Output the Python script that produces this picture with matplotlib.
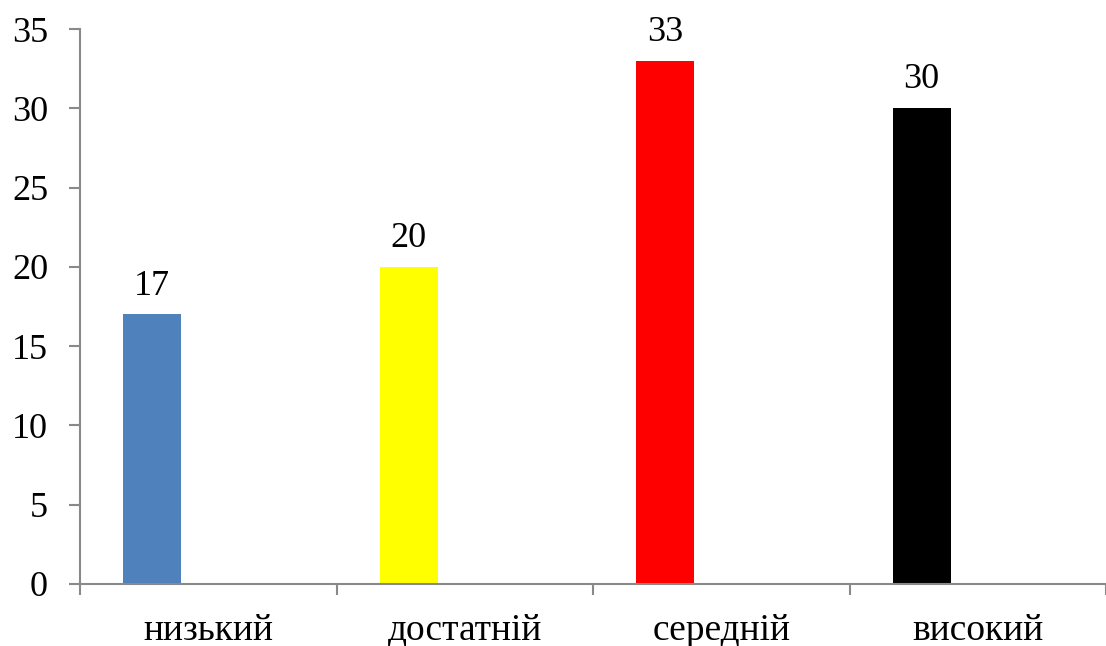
import matplotlib
matplotlib.use("Agg")
import matplotlib.pyplot as plt
import numpy as np

categories = ["низький", "достатній", "середній", "високий"]
values = [17, 20, 33, 30]
colors = ["#4f81bd", "#ffff00", "#ff0000", "#000000"]
yticks = [0, 5, 10, 15, 20, 25, 30, 35]

plt.rcParams['font.family'] = ['Liberation Serif', 'DejaVu Serif']

W, H = 1106, 646
fig = plt.figure(figsize=(W / 100, H / 100), dpi=100)
ax = fig.add_axes([80 / W, (H - 584) / H, 1026 / W, 555 / H])

x = np.arange(len(categories))
bar_offset = 0.281
bar_width = 0.226
bars = ax.bar(x + bar_offset, values, width=bar_width, color=colors)
for xi, v in zip(x, values):
    ax.text(xi + bar_offset, v + 0.75, str(v), ha='center', va='bottom', fontsize=26)

ax.set_xlim(0, len(categories))
ax.set_ylim(0, 35)
ax.set_yticks(yticks)
ax.set_yticklabels([str(t) for t in yticks], fontsize=26)

ax.set_xticks(x + 0.5)
ax.set_xticklabels(categories, fontsize=27)
ax.set_xticks(np.arange(len(categories) + 1), minor=True)

gray = "#898989"
for s in ['top', 'right']:
    ax.spines[s].set_visible(False)
for s in ['left', 'bottom']:
    ax.spines[s].set_color(gray)
    ax.spines[s].set_linewidth(1.5)

ax.tick_params(axis='y', direction='out', length=8, width=1.5, color=gray, pad=15)
ax.tick_params(axis='x', which='major', length=0, pad=21)
ax.tick_params(axis='x', which='minor', direction='out', length=8, width=1.5, color=gray)

fig.savefig("out.png", dpi=100)
